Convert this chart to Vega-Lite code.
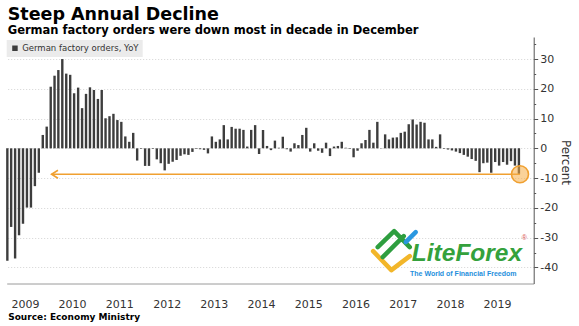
{
  "$schema": "https://vega.github.io/schema/vega-lite/v6.json",
  "width": 527,
  "height": 246.5,
  "autosize": {"type": "none"},
  "padding": {"left": 6.7, "top": 37, "right": 45.3, "bottom": 42.5},
  "background": "white",
  "config": {"view": {"stroke": null}, "font": "DejaVu Sans"},
  "title": {
    "text": "Steep Annual Decline",
    "subtitle": "German factory orders were down most in decade in December",
    "anchor": "start",
    "frame": "group",
    "font": "DejaVu Sans",
    "fontSize": 17.5,
    "fontWeight": "bold",
    "color": "#000",
    "subtitleFont": "DejaVu Sans",
    "subtitleFontSize": 11.5,
    "subtitleFontWeight": "bold",
    "subtitleColor": "#000",
    "subtitlePadding": 1.5,
    "offset": 1,
    "dx": 1
  },
  "datasets": {
    "orders": [
      {"month": "2009-02", "value": -37.8}, {"month": "2009-03", "value": -26.4}, {"month": "2009-04", "value": -37.0}, {"month": "2009-05", "value": -29.2}, {"month": "2009-06", "value": -25.3}, {"month": "2009-07", "value": -19.9}, {"month": "2009-08", "value": -19.9}, {"month": "2009-09", "value": -12.7}, {"month": "2009-10", "value": -8.2}, {"month": "2009-11", "value": 4.5}, {"month": "2009-12", "value": 7.3},
      {"month": "2010-01", "value": 20.7}, {"month": "2010-02", "value": 24.4}, {"month": "2010-03", "value": 26.3}, {"month": "2010-04", "value": 30.0}, {"month": "2010-05", "value": 25.1}, {"month": "2010-06", "value": 24.7}, {"month": "2010-07", "value": 18.5}, {"month": "2010-08", "value": 20.4}, {"month": "2010-09", "value": 13.5}, {"month": "2010-10", "value": 18.3}, {"month": "2010-11", "value": 20.5}, {"month": "2010-12", "value": 19.6},
      {"month": "2011-01", "value": 16.6}, {"month": "2011-02", "value": 19.6}, {"month": "2011-03", "value": 10.1}, {"month": "2011-04", "value": 10.8}, {"month": "2011-05", "value": 11.6}, {"month": "2011-06", "value": 9.5}, {"month": "2011-07", "value": 8.9}, {"month": "2011-08", "value": 4.0}, {"month": "2011-09", "value": 2.2}, {"month": "2011-10", "value": 5.2}, {"month": "2011-11", "value": -4.1}, {"month": "2011-12", "value": -0.2},
      {"month": "2012-01", "value": -5.9}, {"month": "2012-02", "value": -5.9}, {"month": "2012-03", "value": -0.2}, {"month": "2012-04", "value": -3.7}, {"month": "2012-05", "value": -5.0}, {"month": "2012-06", "value": -7.4}, {"month": "2012-07", "value": -5.2}, {"month": "2012-08", "value": -4.5}, {"month": "2012-09", "value": -3.9}, {"month": "2012-10", "value": -2.5}, {"month": "2012-11", "value": -2.0}, {"month": "2012-12", "value": -2.2},
      {"month": "2013-01", "value": -1.2}, {"month": "2013-02", "value": -0.2}, {"month": "2013-03", "value": -0.3}, {"month": "2013-04", "value": -0.5}, {"month": "2013-05", "value": -1.7}, {"month": "2013-06", "value": 4.0}, {"month": "2013-07", "value": 2.2}, {"month": "2013-08", "value": 3.0}, {"month": "2013-09", "value": 7.8}, {"month": "2013-10", "value": 3.0}, {"month": "2013-11", "value": 7.2}, {"month": "2013-12", "value": 6.6},
      {"month": "2014-01", "value": 6.6}, {"month": "2014-02", "value": 6.2}, {"month": "2014-03", "value": 0.6}, {"month": "2014-04", "value": 6.2}, {"month": "2014-05", "value": 7.8}, {"month": "2014-06", "value": -1.9}, {"month": "2014-07", "value": 6.2}, {"month": "2014-08", "value": 0.8}, {"month": "2014-09", "value": -0.6}, {"month": "2014-10", "value": 2.6}, {"month": "2014-11", "value": 0.2}, {"month": "2014-12", "value": 3.9},
      {"month": "2015-01", "value": -0.3}, {"month": "2015-02", "value": -1.1}, {"month": "2015-03", "value": 1.7}, {"month": "2015-04", "value": 1.1}, {"month": "2015-05", "value": 4.5}, {"month": "2015-06", "value": 6.9}, {"month": "2015-07", "value": -1.1}, {"month": "2015-08", "value": 1.7}, {"month": "2015-09", "value": -0.8}, {"month": "2015-10", "value": -1.5}, {"month": "2015-11", "value": 1.9}, {"month": "2015-12", "value": -2.6},
      {"month": "2016-01", "value": 0.6}, {"month": "2016-02", "value": 0.8}, {"month": "2016-03", "value": 2.2}, {"month": "2016-04", "value": 0.2}, {"month": "2016-05", "value": -0.2}, {"month": "2016-06", "value": -3.0}, {"month": "2016-07", "value": -0.8}, {"month": "2016-08", "value": 1.7}, {"month": "2016-09", "value": 2.8}, {"month": "2016-10", "value": 6.2}, {"month": "2016-11", "value": 1.9}, {"month": "2016-12", "value": 8.9},
      {"month": "2017-01", "value": 0.1}, {"month": "2017-02", "value": 4.7}, {"month": "2017-03", "value": 3.0}, {"month": "2017-04", "value": 3.6}, {"month": "2017-05", "value": 3.7}, {"month": "2017-06", "value": 5.2}, {"month": "2017-07", "value": 5.6}, {"month": "2017-08", "value": 8.1}, {"month": "2017-09", "value": 9.7}, {"month": "2017-10", "value": 8.0}, {"month": "2017-11", "value": 8.9}, {"month": "2017-12", "value": 8.6},
      {"month": "2018-01", "value": 3.0}, {"month": "2018-02", "value": 3.0}, {"month": "2018-03", "value": 0.5}, {"month": "2018-04", "value": 4.7}, {"month": "2018-05", "value": -0.2}, {"month": "2018-06", "value": -0.4}, {"month": "2018-07", "value": -0.7}, {"month": "2018-08", "value": -1.1}, {"month": "2018-09", "value": -1.6}, {"month": "2018-10", "value": -2.2}, {"month": "2018-11", "value": -2.8}, {"month": "2018-12", "value": -3.6},
      {"month": "2019-01", "value": -4.2}, {"month": "2019-02", "value": -8.0}, {"month": "2019-03", "value": -5.0}, {"month": "2019-04", "value": -4.8}, {"month": "2019-05", "value": -8.2}, {"month": "2019-06", "value": -4.6}, {"month": "2019-07", "value": -5.8}, {"month": "2019-08", "value": -4.6}, {"month": "2019-09", "value": -5.5}, {"month": "2019-10", "value": -4.3}, {"month": "2019-11", "value": -5.8}, {"month": "2019-12", "value": -8.7}
    ],
    "arrow": [{"month": "2010-01-23", "month2": "2019-12-25", "value": -8.7}],
    "highlight": [{"month": "2019-12-25", "value": -8.7}],
    "logo": [
      {"month": "2017-04-07", "value": -34.2, "part": "yellow"},
      {"month": "2017-04-07", "value": -34.2, "part": "green"},
      {"month": "2017-04-07", "value": -34.2, "part": "blue"}
    ],
    "brand": [{"month": "2018-11-10", "value": -37.9, "label": "LiteForex"}],
    "reg": [{"month": "2020-01-28", "value": -30.2, "label": "®"}],
    "tagline": [{"month": "2018-10-12", "value": -42.9, "label": "The World of Financial Freedom"}]
  },
  "encoding": {
    "y": {
      "field": "value", "type": "quantitative",
      "scale": {"domain": [-45.4, 37.4], "nice": false, "zero": false},
      "axis": {
        "orient": "right",
        "values": [-40, -35, -30, -25, -20, -15, -10, -5, 0, 5, 10, 15, 20, 25, 30, 35],
        "labelExpr": "datum.value % 10 === 0 ? '' + datum.value : ''",
        "labelOverlap": false,
        "labelBound": false,
        "tickSize": {"condition": {"test": "datum.value % 10 !== 0", "value": 2}, "value": 4},
        "tickColor": "#555",
        "domainColor": "#555",
        "grid": true,
        "gridColor": "#d4d4d4",
        "gridDash": [1, 2],
        "gridOpacity": {"condition": {"test": "datum.value % 10 !== 0", "value": 0}, "value": 1},
        "labelFont": "DejaVu Sans",
        "labelFontSize": 11,
        "labelColor": "#333",
        "labelPadding": 2,
        "title": "Percent",
        "titleFont": "DejaVu Sans",
        "titleFontSize": 12,
        "titleFontWeight": "normal",
        "titleColor": "#333",
        "titleAngle": 90,
        "titleAlign": "center",
        "titleBaseline": "middle",
        "titleX": 32,
        "titleY": 125
      }
    }
  },
  "layer": [
    {
      "data": {"name": "orders"},
      "mark": {"type": "bar", "width": 2.4},
      "encoding": {
        "x": {
          "field": "month", "type": "temporal", "timeUnit": "utcyearmonth", "bandPosition": 0.8,
          "scale": {"type": "utc", "domain": [{"year": 2009, "month": 2, "date": 10, "utc": true}, {"year": 2020, "month": 4, "date": 9, "utc": true}]},
          "axis": {
            "values": [
              {"year": 2009, "month": 7, "date": 1, "utc": true},
              {"year": 2010, "month": 1, "date": 1, "utc": true}, {"year": 2010, "month": 7, "date": 1, "utc": true},
              {"year": 2011, "month": 1, "date": 1, "utc": true}, {"year": 2011, "month": 7, "date": 1, "utc": true},
              {"year": 2012, "month": 1, "date": 1, "utc": true}, {"year": 2012, "month": 7, "date": 1, "utc": true},
              {"year": 2013, "month": 1, "date": 1, "utc": true}, {"year": 2013, "month": 7, "date": 1, "utc": true},
              {"year": 2014, "month": 1, "date": 1, "utc": true}, {"year": 2014, "month": 7, "date": 1, "utc": true},
              {"year": 2015, "month": 1, "date": 1, "utc": true}, {"year": 2015, "month": 7, "date": 1, "utc": true},
              {"year": 2016, "month": 1, "date": 1, "utc": true}, {"year": 2016, "month": 7, "date": 1, "utc": true},
              {"year": 2017, "month": 1, "date": 1, "utc": true}, {"year": 2017, "month": 7, "date": 1, "utc": true},
              {"year": 2018, "month": 1, "date": 1, "utc": true}, {"year": 2018, "month": 7, "date": 1, "utc": true},
              {"year": 2019, "month": 1, "date": 1, "utc": true}, {"year": 2019, "month": 7, "date": 1, "utc": true},
              {"year": 2020, "month": 1, "date": 1, "utc": true}
            ],
            "labelExpr": "utcmonth(datum.value) === 6 ? utcFormat(datum.value, '%Y') : ''",
            "tickOpacity": {"condition": {"test": "utcmonth(datum.value) === 6", "value": 0}, "value": 1},
            "tickSize": 26,
            "tickColor": "#9a9a9a",
            "domainColor": "#9a9a9a",
            "grid": true,
            "gridColor": "#e2e2e2",
            "gridOpacity": {"condition": {"test": "utcmonth(datum.value) === 0 && utcyear(datum.value) % 2 === 0", "value": 1}, "value": 0},
            "labelPadding": -11,
            "labelFont": "DejaVu Sans",
            "labelFontSize": 11,
            "labelColor": "#333",
            "labelAngle": 0,
            "labelAlign": "center",
            "labelBaseline": "top",
            "labelOverlap": false,
            "labelFlush": false,
            "title": "Source: Economy Ministry",
            "titleFont": "DejaVu Sans",
            "titleFontSize": 9,
            "titleFontWeight": "bold",
            "titleColor": "#000",
            "titleAnchor": "start",
            "titleAlign": "left",
            "titleBaseline": "top",
            "titleX": 1,
            "titleY": 29
          }
        },
        "color": {
          "datum": "German factory orders, YoY",
          "type": "nominal",
          "scale": {"range": ["#3d3d3d"]},
          "legend": {
            "orient": "none", "legendX": 0, "legendY": 3, "title": null,
            "fillColor": "#ebebeb", "padding": 4, "symbolType": "square", "symbolSize": 30,
            "symbolStrokeWidth": 0, "labelFont": "DejaVu Sans", "labelFontSize": 8.5, "labelColor": "#333", "labelOffset": 3
          }
        }
      }
    },
    {
      "data": {"name": "arrow"},
      "mark": {"type": "rule", "color": "#f0a030", "strokeWidth": 1.6},
      "encoding": {
        "x": {"field": "month", "type": "temporal"},
        "x2": {"field": "month2"}
      }
    },
    {
      "data": {"name": "arrow"},
      "mark": {"type": "point", "shape": "M1.6,-1L0,0L1.6,1", "size": 64, "filled": false, "color": "#f0a030", "strokeWidth": 1.6, "opacity": 1},
      "encoding": {
        "x": {"field": "month", "type": "temporal"}
      }
    },
    {
      "data": {"name": "highlight"},
      "mark": {"type": "point", "shape": "circle", "size": 290, "filled": true, "fill": "#f5ad45", "fillOpacity": 0.55, "stroke": "#f0a030", "strokeWidth": 1.6, "strokeOpacity": 1},
      "encoding": {
        "x": {"field": "month", "type": "temporal"}
      }
    },
    {
      "data": {"name": "logo"},
      "mark": {"type": "point", "filled": false, "size": 1600, "strokeWidth": 4.5, "strokeCap": "round", "strokeJoin": "round", "opacity": 1},
      "encoding": {
        "x": {"field": "month", "type": "temporal"},
        "shape": {"field": "part", "type": "nominal", "legend": null, "scale": {"domain": ["yellow", "green", "blue"], "range": ["M-0.93,0.05L-0.02,1L0.9,0.3", "M-0.7,-0.15L0.12,-0.95L0.9,-0.15M-0.45,0.35L0.6,-0.7", "M0.7,-0.4L1.2,-0.9"]}},
        "stroke": {"field": "part", "type": "nominal", "legend": null, "scale": {"domain": ["yellow", "green", "blue"], "range": ["#f2b62a", "#2e9e3f", "#2a97e0"]}}
      }
    },
    {
      "data": {"name": "brand"},
      "mark": {"type": "text", "font": "Liberation Sans", "fontSize": 24.5, "fontWeight": "bold", "fontStyle": "italic", "color": "#34a13c", "align": "center", "baseline": "alphabetic"},
      "encoding": {
        "x": {"field": "month", "type": "temporal"},
        "text": {"field": "label"}
      }
    },
    {
      "data": {"name": "reg"},
      "mark": {"type": "text", "font": "Liberation Sans", "fontSize": 7, "color": "#d9534f", "align": "center", "baseline": "middle"},
      "encoding": {
        "x": {"field": "month", "type": "temporal"},
        "text": {"field": "label"}
      }
    },
    {
      "data": {"name": "tagline"},
      "mark": {"type": "text", "font": "Liberation Sans", "fontSize": 7, "fontWeight": "bold", "color": "#1f8fdc", "align": "center", "baseline": "alphabetic"},
      "encoding": {
        "x": {"field": "month", "type": "temporal"},
        "text": {"field": "label"}
      }
    }
  ]
}
